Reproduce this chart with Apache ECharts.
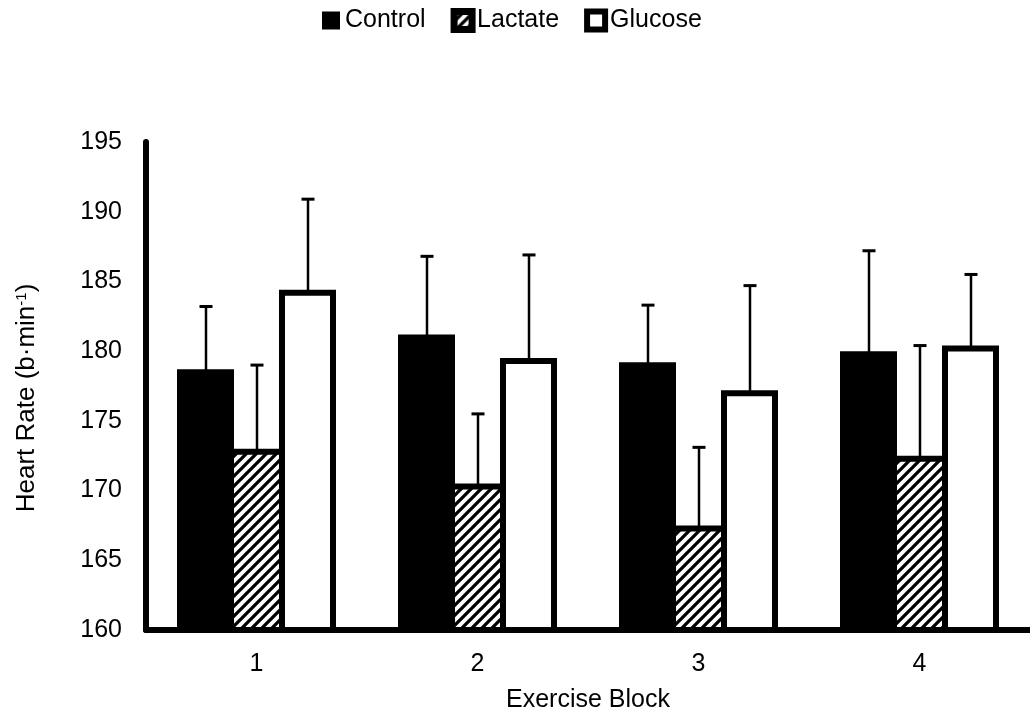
<!DOCTYPE html>
<html>
<head>
<meta charset="utf-8">
<script src="https://cdn.jsdelivr.net/npm/echarts@6/dist/echarts.min.js"></script>
<style>
html,body{margin:0;padding:0;background:#fff;}
#chart{width:1030px;height:718px;}
</style>
</head>
<body>
<div id="chart"></div>
<script>
const categories = ['1', '2', '3', '4'];
const seriesNames = ['Control', 'Lactate', 'Glucose'];
const controlMean = [178.7, 181.2, 179.2, 180.0];
const controlSD = [4.5, 5.6, 4.1, 7.2];
const lactateMean = [173.0, 170.5, 167.5, 172.5];
const lactateSD = [6.0, 5.0, 5.6, 7.9];
const glucoseMean = [184.4, 179.5, 177.2, 180.4];
const glucoseSD = [6.5, 7.4, 7.5, 5.1];
const yTicks = [160, 165, 170, 175, 180, 185, 190, 195];

const FONT = 'Liberation Sans, Arial, sans-serif';
const BAR_W = 57;
const BORDER = 6;

// hatch pattern
function makeHatch() {
  const c = document.createElement('canvas');
  c.width = 10; c.height = 10;
  const g = c.getContext('2d');
  g.fillStyle = '#fff';
  g.fillRect(0, 0, 10, 10);
  g.strokeStyle = '#000';
  g.lineWidth = 3.3;
  g.beginPath();
  g.moveTo(-5, 5); g.lineTo(5, -5);
  g.moveTo(0, 10); g.lineTo(10, 0);
  g.moveTo(5, 15); g.lineTo(15, 5);
  g.stroke();
  return c;
}
const hatch = { image: makeHatch(), repeat: 'repeat' };

const means = [controlMean, lactateMean, glucoseMean];
const sds = [controlSD, lactateSD, glucoseSD];
const fills = ['#000', hatch, '#fff'];

const chart = echarts.init(document.getElementById('chart'), null, { renderer: 'canvas' });

const barSeries = seriesNames.map((name, i) => ({
  name: name,
  type: 'bar',
  data: means[i],
  barWidth: BAR_W,
  barGap: (-BORDER / BAR_W * 100).toFixed(2) + '%',
  itemStyle: { color: fills[i], borderColor: '#000', borderWidth: BORDER },
  emphasis: { disabled: true },
  z: 2
}));

const errSeries = seriesNames.map((name, i) => ({
  type: 'custom',
  name: name + ' SD',
  data: categories.map((c, k) => [k, means[i][k], means[i][k] + sds[i][k]]),
  z: 5,
  silent: true,
  renderItem: function (params, api) {
    const k = api.value(0);
    const p0 = api.coord([k, api.value(1)]);
    const p1 = api.coord([k, api.value(2)]);
    const x = Math.round(p0[0] + (i - 1) * (BAR_W - BORDER));
    const cap = 6.5;
    return {
      type: 'group',
      children: [
        { type: 'line', shape: { x1: x, y1: p0[1] + 1, x2: x, y2: p1[1] }, style: { stroke: '#000', lineWidth: 2.5 } },
        { type: 'line', shape: { x1: x - cap, y1: p1[1], x2: x + cap, y2: p1[1] }, style: { stroke: '#000', lineWidth: 3 } }
      ]
    };
  }
}));

const option = {
  animation: false,
  backgroundColor: '#fff',
  legend: {
    top: 3,
    left: 317,
    itemWidth: 18,
    itemHeight: 18,
    itemGap: 25,
    icon: 'rect',
    textStyle: { fontFamily: FONT, fontSize: 25, color: '#000' },
    data: [
      { name: 'Control', itemStyle: { color: '#000', borderColor: '#000', borderWidth: 0 } },
      { name: 'Lactate', itemStyle: { color: hatch, borderColor: '#000', borderWidth: 7 } },
      { name: 'Glucose', itemStyle: { color: '#fff', borderColor: '#000', borderWidth: 6 } }
    ]
  },
  grid: { left: 146, right: 0, top: 142, bottom: 86, containLabel: false },
  xAxis: {
    type: 'category',
    data: categories,
    axisLine: { lineStyle: { color: '#000', width: 6 } },
    axisTick: { show: false },
    axisLabel: { fontFamily: FONT, fontSize: 25, color: '#000', margin: 22 },
    name: 'Exercise Block',
    nameLocation: 'middle',
    nameGap: 58,
    nameTextStyle: { fontFamily: FONT, fontSize: 25, color: '#000' }
  },
  yAxis: {
    type: 'value',
    min: yTicks[0],
    max: yTicks[yTicks.length - 1],
    interval: 5,
    axisLine: { show: true, lineStyle: { color: '#000', width: 6 } },
    axisTick: { show: false },
    splitLine: { show: false },
    axisLabel: { fontFamily: FONT, fontSize: 25, color: '#000', margin: 24 },
    name: 'Heart Rate (b·min{sup|-1})',
    nameLocation: 'middle',
    nameGap: 106,
    nameRotate: 90,
    nameTextStyle: {
      fontFamily: FONT, fontSize: 26, color: '#000',
      padding: [0, 24, 0, 0],
      rich: { sup: { fontFamily: FONT, fontSize: 15, color: '#000', verticalAlign: 'top', padding: [0, 0, 10, 0] } }
    }
  },
  series: barSeries.concat(errSeries)
};
chart.setOption(option);
</script>
</body>
</html>
